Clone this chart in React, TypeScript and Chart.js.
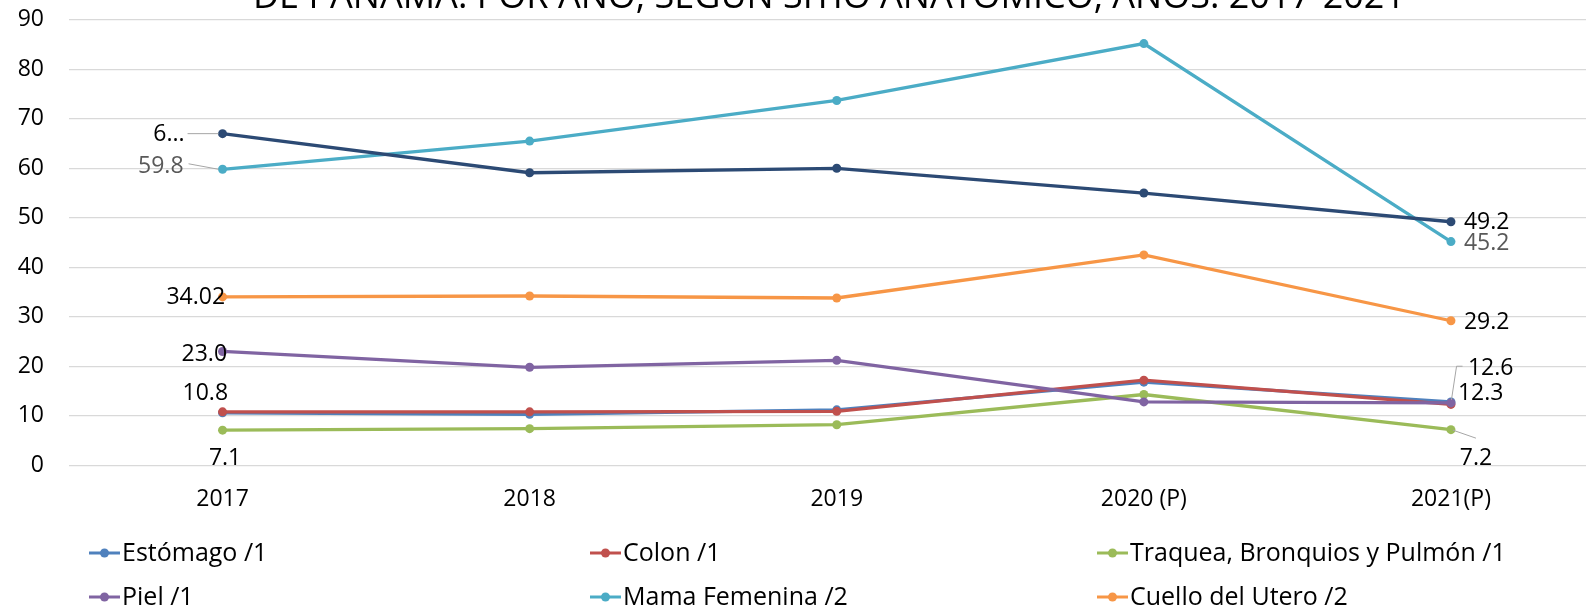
import React, { useEffect, useRef } from 'react';
import { Chart, registerables } from 'chart.js';

Chart.register(...registerables);

// ---- Data ----
const categories = ['2017', '2018', '2019', '2020 (P)', '2021(P)'];
const estomago = [10.6, 10.3, 11.2, 16.8, 12.8];
const colon = [10.8, 10.8, 10.9, 17.2, 12.3];
const traquea = [7.1, 7.4, 8.2, 14.3, 7.2];
const piel = [23.0, 19.8, 21.2, 12.8, 12.6];
const mama = [59.8, 65.5, 73.7, 85.2, 45.2];
const cuello = [34.02, 34.2, 33.8, 42.5, 29.2];
const serieSinLeyenda = [67.0, 59.1, 60.0, 55.0, 49.2];

const seriesNames = [
  'Estómago /1',
  'Colon /1',
  'Traquea, Bronquios y Pulmón /1',
  'Piel /1',
  'Mama Femenina /2',
  'Cuello del Utero /2',
  '(sin leyenda)',
];
const seriesValues = [estomago, colon, traquea, piel, mama, cuello, serieSinLeyenda];
const seriesColors = ['#4F81BD', '#C0504D', '#9BBB59', '#8064A2', '#4BACC6', '#F79646', '#2C4A74'];
const legendSeries = [0, 1, 2, 3, 4, 5];

const titleText = 'DE PANAMÁ: POR AÑO, SEGÚN SITIO ANATÓMICO, AÑOS: 2017-2021';
const yMin = 0;
const yMax = 90;
const yStep = 10;

// texts of the visible data labels
const labelTexts = ['6...', '59.8', '34.02', '23.0', '10.8', '7.1', '49.2', '45.2', '29.2', '12.6', '12.3', '7.2'];

// ---- Layout constants (canvas is shifted up so the title is cut like the reference) ----
const SHIFT = 19;
const CANVAS_W = 1609;
const CANVAS_H = 613 + SHIFT;

// ---- Label placement (styles/offsets only) ----
type LabelSpec = {
  t: number; ds: number; idx: number; dx: number; dy: number;
  align: CanvasTextAlign; color: string; leader?: number[][];
};
const GRAY = '#595959';
const BLACK = '#000000';
const labelLayout: LabelSpec[] = [
  { t: 0, ds: 6, idx: 0, dx: -38, dy: 0.5, align: 'right', color: BLACK, leader: [[-35, 0], [-4, 0]] },
  { t: 1, ds: 4, idx: 0, dx: -39, dy: -3, align: 'right', color: GRAY, leader: [[-34, -5.5], [-4, 0]] },
  { t: 2, ds: 5, idx: 0, dx: 2.5, dy: 0.5, align: 'right', color: BLACK },
  { t: 3, ds: 3, idx: 0, dx: 4.5, dy: 3, align: 'right', color: BLACK },
  { t: 4, ds: 1, idx: 0, dx: 5.5, dy: -18, align: 'right', color: BLACK },
  { t: 5, ds: 2, idx: 0, dx: 2.5, dy: 28, align: 'center', color: BLACK },
  { t: 6, ds: 6, idx: 4, dx: 13, dy: 1, align: 'left', color: BLACK },
  { t: 7, ds: 4, idx: 4, dx: 13, dy: 1.5, align: 'left', color: GRAY },
  { t: 8, ds: 5, idx: 4, dx: 13, dy: 1.5, align: 'left', color: BLACK },
  { t: 9, ds: 3, idx: 4, dx: 17, dy: -34, align: 'left', color: BLACK, leader: [[0.5, -3], [5.6, -36.7], [11.6, -36.7]] },
  { t: 10, ds: 1, idx: 4, dx: 7, dy: -11, align: 'left', color: BLACK },
  { t: 11, ds: 2, idx: 4, dx: 25, dy: 28.5, align: 'center', color: BLACK, leader: [[2, 0.5], [25, 8.5]] },
];

const FONT = '"Open Sans", "DejaVu Sans", sans-serif';

const labelPlugin = {
  id: 'pointLabels',
  afterDatasetsDraw(chart: any) {
    const ctx = chart.ctx as CanvasRenderingContext2D;
    ctx.save();
    ctx.font = `23px ${FONT}`;
    ctx.textBaseline = 'middle';
    for (const s of labelLayout) {
      const el = chart.getDatasetMeta(s.ds).data[s.idx];
      if (!el) continue;
      const x = el.x;
      const y = el.y;
      if (s.leader) {
        ctx.strokeStyle = '#A6A6A6';
        ctx.lineWidth = 1;
        ctx.beginPath();
        s.leader.forEach((p, i) => {
          if (i === 0) ctx.moveTo(x + p[0], y + p[1]);
          else ctx.lineTo(x + p[0], y + p[1]);
        });
        ctx.stroke();
      }
      ctx.fillStyle = s.color;
      ctx.textAlign = s.align;
      ctx.fillText(labelTexts[s.t], x + s.dx, y + s.dy);
    }
    ctx.restore();
  },
};

const titlePlugin = {
  id: 'cutTitle',
  afterDraw(chart: any) {
    const ctx = chart.ctx as CanvasRenderingContext2D;
    ctx.save();
    ctx.font = `36px ${FONT}`;
    ctx.fillStyle = '#000';
    ctx.textAlign = 'center';
    ctx.textBaseline = 'alphabetic';
    ctx.fillText(titleText, 829, 8 + SHIFT);
    ctx.restore();
  },
};

const legendPlugin = {
  id: 'gridLegend',
  afterDraw(chart: any) {
    const ctx = chart.ctx as CanvasRenderingContext2D;
    const colX = [89, 590, 1097];
    const rowY = [553 + SHIFT, 597 + SHIFT];
    ctx.save();
    ctx.font = `25px ${FONT}`;
    ctx.textBaseline = 'middle';
    ctx.textAlign = 'left';
    legendSeries.forEach((si, k) => {
      const x = colX[k % 3];
      const y = rowY[Math.floor(k / 3)];
      ctx.strokeStyle = seriesColors[si];
      ctx.lineWidth = 3;
      ctx.beginPath();
      ctx.moveTo(x, y);
      ctx.lineTo(x + 31, y);
      ctx.stroke();
      ctx.fillStyle = seriesColors[si];
      ctx.beginPath();
      ctx.arc(x + 15.5, y, 4.5, 0, Math.PI * 2);
      ctx.fill();
      ctx.fillStyle = '#000';
      ctx.fillText(seriesNames[si], x + 33, y + 1);
    });
    ctx.restore();
  },
};

export default function App() {
  const canvasRef = useRef<HTMLCanvasElement | null>(null);

  useEffect(() => {
    if (!canvasRef.current) return;
    const datasets = seriesValues.map((vals, i) => ({
      label: seriesNames[i],
      data: vals,
      borderColor: seriesColors[i],
      backgroundColor: seriesColors[i],
      pointBackgroundColor: seriesColors[i],
      pointBorderColor: seriesColors[i],
      pointBorderWidth: 0,
      pointRadius: 4.5,
      borderWidth: 3.3,
      tension: 0,
      order: seriesValues.length - 1 - i,
    }));
    const chart = new Chart(canvasRef.current, {
      type: 'line',
      data: { labels: categories, datasets },
      options: {
        animation: false,
        responsive: false,
        devicePixelRatio: 1,
        layout: { padding: { top: 0, bottom: 100, left: 0, right: 0 } },
        plugins: {
          legend: { display: false },
          title: { display: false },
          tooltip: { enabled: false },
        },
        scales: {
          x: {
            offset: true,
            grid: { display: false, drawTicks: false },
            border: { display: false },
            ticks: {
              color: '#000',
              padding: 20,
              font: { family: FONT, size: 23 },
              maxRotation: 0,
              autoSkip: false,
            },
            afterFit: (s: any) => { s.height = 47.7; },
          },
          y: {
            min: yMin,
            max: yMax,
            grid: { color: '#D9D9D9', lineWidth: 1.3, drawTicks: false },
            border: { display: false },
            ticks: {
              stepSize: yStep,
              color: '#000',
              padding: 25,
              font: { family: FONT, size: 23 },
            },
            afterFit: (s: any) => { s.width = 69; },
          },
        },
      },
      plugins: [labelPlugin, titlePlugin, legendPlugin],
    });
    return () => chart.destroy();
  }, []);

  return (
    <div style={{ position: 'fixed', left: 0, top: 0, width: 1586, height: 613, overflow: 'hidden', background: '#fff' }}>
      <canvas
        ref={canvasRef}
        width={CANVAS_W}
        height={CANVAS_H}
        style={{ position: 'absolute', left: 0, top: -SHIFT, width: CANVAS_W, height: CANVAS_H }}
      />
    </div>
  );
}
